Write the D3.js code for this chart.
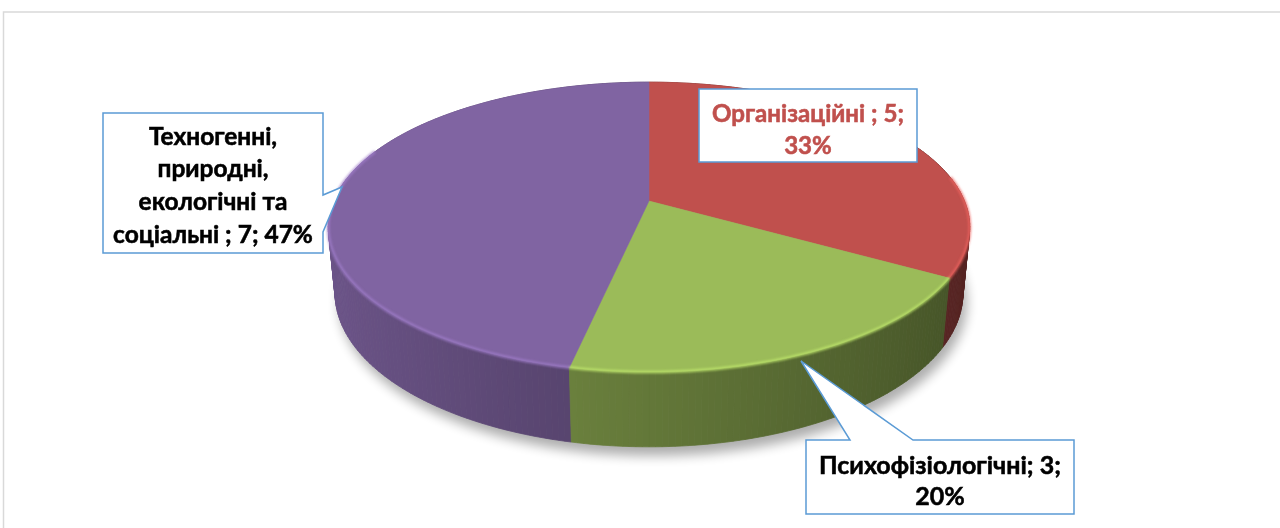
<!DOCTYPE html>
<html>
<head>
<meta charset="utf-8">
<script src="https://cdn.jsdelivr.net/npm/d3@7"></script>
<style>
  body { margin: 0; background: #fff; }
  svg { display: block; }
</style>
</head>
<body>
<div id="chart"></div>
<script>
// data
const categories = ["Організаційні ", "Психофізіологічні", "Техногенні, природні, екологічні та соціальні "];
const values = [5, 3, 7];
const colors = ["#C0504D", "#9BBB59", "#8064A2"];
const labelColors = ["#C0504D", "#000000", "#000000"];

const width = 1280, height = 528;

const svg = d3.select("#chart")
  .append("svg")
  .attr("width", width)
  .attr("height", height);

const defs = svg.append("defs");
defs.append("filter").attr("id", "shadowBlur")
  .attr("x", "-20%").attr("y", "-20%").attr("width", "140%").attr("height", "140%")
  .append("feGaussianBlur").attr("stdDeviation", 6);
defs.append("filter").attr("id", "rimBlur")
  .append("feGaussianBlur").attr("stdDeviation", 1.1);

// chart frame
svg.append("rect")
  .attr("x", 3.5).attr("y", 12)
  .attr("width", 1400).attr("height", 700)
  .attr("fill", "none")
  .attr("stroke", "#d9d9d9")
  .attr("stroke-width", 1.5);

// perspective for the 3d pie
const cx = 649, cy = 201;
const tilt = 26.4 * Math.PI / 180;
const ct = Math.cos(tilt), st = Math.sin(tilt);
const dist = 4.97, focal = 1568, thick = 0.235;

function proj(a, r, y) {
  const u = r * Math.sin(a), v = r * Math.cos(a);
  const yc = y * ct + v * st;
  const zc = dist + v * ct - y * st;
  return [cx + focal * u / zc, cy - focal * yc / zc];
}

const pie = d3.pie().sort(null).value(d => d);
const arcs = pie(values);
const step = Math.PI / 180;

function arcPoints(a0, a1, y) {
  const n = Math.max(2, Math.ceil((a1 - a0) / step));
  return d3.range(n + 1).map(i => proj(a0 + (a1 - a0) * i / n, 1, y));
}

const line = d3.line();

// soft shadow under the pie
svg.append("path")
  .attr("d", line(arcPoints(0, 2 * Math.PI, -thick)) + "Z")
  .attr("transform", "translate(4,9)")
  .attr("fill", "#000")
  .attr("opacity", 0.32)
  .attr("filter", "url(#shadowBlur)");

// outer walls, split in thin strips, far strips first
function shade(base, a) {
  const k = 0.64 - 0.21 * Math.sin(a);
  const c = d3.rgb(base);
  return d3.rgb(c.r * k, c.g * k, c.b * k).formatHex();
}

let strips = [];
arcs.forEach((d, i) => {
  const n = Math.ceil((d.endAngle - d.startAngle) / step);
  for (let j = 0; j < n; j++) {
    const t0 = d.startAngle + (d.endAngle - d.startAngle) * j / n;
    const t1 = d.startAngle + (d.endAngle - d.startAngle) * (j + 1) / n;
    const tm = (t0 + t1) / 2;
    strips.push({
      pts: [proj(t0, 1, 0), proj(t1, 1, 0), proj(t1, 1, -thick), proj(t0, 1, -thick)],
      depth: dist + Math.cos(tm) * ct,
      color: shade(colors[i], tm)
    });
  }
});
strips.sort((a, b) => b.depth - a.depth);

svg.append("g")
  .selectAll("path")
  .data(strips)
  .join("path")
    .attr("d", s => line(s.pts) + "Z")
    .attr("fill", s => s.color)
    .attr("stroke", s => s.color)
    .attr("stroke-width", 0.8);

// top faces
svg.append("g")
  .selectAll("path")
  .data(arcs)
  .join("path")
    .attr("d", d => line([proj(0, 0, 0)].concat(arcPoints(d.startAngle, d.endAngle, 0))) + "Z")
    .attr("fill", (d, i) => colors[i])
    .attr("stroke", (d, i) => colors[i])
    .attr("stroke-width", 0.5);

// light bevel along the front rim
const rimFrom = 80 * step, rimTo = 292 * step;
svg.append("g")
  .attr("filter", "url(#rimBlur)")
  .selectAll("path")
  .data(arcs.filter(d => d.endAngle > rimFrom && d.startAngle < rimTo))
  .join("path")
    .attr("d", d => line(arcPoints(Math.max(d.startAngle, rimFrom), Math.min(d.endAngle, rimTo), 0)))
    .attr("fill", "none")
    .attr("stroke", d => d3.color(colors[d.index]).brighter(0.6))
    .attr("stroke-width", 3)
    .attr("opacity", 0.75);

// data callouts
const total = d3.sum(values);
const labels = arcs.map((d, i) =>
  categories[i] + "; " + values[i] + "; " + Math.round(values[i] / total * 100) + "%");

const callouts = [
  { x: 699, y: 89, w: 218, h: 73, maxChars: 18, lineY: [113, 145], fit: 192 },
  { x: 806, y: 440, w: 268, h: 74, maxChars: 21, lineY: [465, 496], fit: 242 },
  { x: 103, y: 113, w: 220, h: 140, maxChars: 18, lineY: [136, 168, 201, 234], fit: 200 }
];
callouts[1].tip = [801, 361]; callouts[1].base = ["top", 850, 913];
callouts[2].tip = [342, 187]; callouts[2].base = ["right", 195, 232];

function wrap(text, maxChars) {
  const words = text.split(/\s+/).filter(w => w.length);
  const lines = [];
  let cur = "";
  words.forEach(w => {
    const next = cur ? cur + " " + w : w;
    if (next.length > maxChars && cur) { lines.push(cur); cur = w; }
    else cur = next;
  });
  if (cur) lines.push(cur);
  return lines;
}

function boxPath(b) {
  const x0 = b.x, y0 = b.y, x1 = b.x + b.w, y1 = b.y + b.h;
  let pts;
  if (!b.tip) pts = [[x0, y0], [x1, y0], [x1, y1], [x0, y1]];
  else if (b.base[0] === "top")
    pts = [[x0, y0], [b.base[1], y0], b.tip, [b.base[2], y0], [x1, y0], [x1, y1], [x0, y1]];
  else
    pts = [[x0, y0], [x1, y0], [x1, b.base[1]], b.tip, [x1, b.base[2]], [x1, y1], [x0, y1]];
  return line(pts) + "Z";
}

const labelG = svg.append("g");
callouts.forEach((b, i) => {
  labelG.append("path")
    .attr("d", boxPath(b))
    .attr("fill", "#fff")
    .attr("stroke", "#5B9BD5")
    .attr("stroke-width", 1.5)
    .attr("stroke-linejoin", "miter");

  const lines = wrap(labels[i], b.maxChars);
  const txt = labelG.append("g")
    .attr("font-family", "Lato, 'Open Sans', sans-serif")
    .attr("font-weight", "bold")
    .attr("font-size", 20)
    .attr("fill", labelColors[i])
    .attr("stroke", labelColors[i])
    .attr("stroke-width", 0.55)
    .attr("text-anchor", "middle");
  const nodes = lines.map((s, k) => txt.append("text")
    .attr("x", b.x + b.w / 2)
    .attr("y", b.lineY[k])
    .text(s));
  const widest = d3.max(nodes, n => n.node().getComputedTextLength());
  const fs = 20 * b.fit / widest;
  txt.attr("font-size", fs);
  nodes.forEach((n, k) => n.attr("y", b.lineY[k] + fs * 0.36));
});
</script>
</body>
</html>
